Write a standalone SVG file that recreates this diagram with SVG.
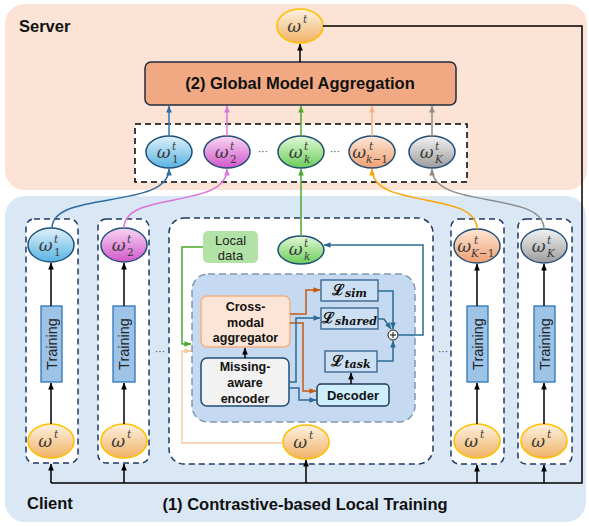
<svg xmlns="http://www.w3.org/2000/svg" width="589" height="527" viewBox="0 0 589 527">
<defs>
<linearGradient id="gO" x1="0" y1="0" x2="0" y2="1"><stop offset="0" stop-color="#fdf2e2"/><stop offset="1" stop-color="#f0b264"/></linearGradient>
<linearGradient id="gB" x1="0" y1="0" x2="0" y2="1"><stop offset="0" stop-color="#e0f1fb"/><stop offset="1" stop-color="#58b3e2"/></linearGradient>
<linearGradient id="gM" x1="0" y1="0" x2="0" y2="1"><stop offset="0" stop-color="#f8d6f4"/><stop offset="1" stop-color="#d258cb"/></linearGradient>
<linearGradient id="gG" x1="0" y1="0" x2="0" y2="1"><stop offset="0" stop-color="#e2f7d8"/><stop offset="1" stop-color="#6ccd58"/></linearGradient>
<linearGradient id="gS" x1="0" y1="0" x2="0" y2="1"><stop offset="0" stop-color="#fde6d6"/><stop offset="1" stop-color="#f0a072"/></linearGradient>
<linearGradient id="gR" x1="0" y1="0" x2="0" y2="1"><stop offset="0" stop-color="#f2f2f2"/><stop offset="1" stop-color="#9c9c9c"/></linearGradient>
<marker id="aK" viewBox="0 0 8 8" refX="7.5" refY="4" markerWidth="7" markerHeight="7" markerUnits="userSpaceOnUse" orient="auto"><path d="M0,0.8 L8,4 L0,7.2 z" fill="#000"/></marker>
<marker id="aB" viewBox="0 0 8 8" refX="7.5" refY="4" markerWidth="7" markerHeight="7" markerUnits="userSpaceOnUse" orient="auto"><path d="M0,0.8 L8,4 L0,7.2 z" fill="#2e6da4"/></marker>
<marker id="aM" viewBox="0 0 8 8" refX="7.5" refY="4" markerWidth="7" markerHeight="7" markerUnits="userSpaceOnUse" orient="auto"><path d="M0,0.8 L8,4 L0,7.2 z" fill="#dc74dc"/></marker>
<marker id="aG" viewBox="0 0 8 8" refX="7.5" refY="4" markerWidth="7" markerHeight="7" markerUnits="userSpaceOnUse" orient="auto"><path d="M0,0.8 L8,4 L0,7.2 z" fill="#4ea72e"/></marker>
<marker id="aS" viewBox="0 0 8 8" refX="7.5" refY="4" markerWidth="7" markerHeight="7" markerUnits="userSpaceOnUse" orient="auto"><path d="M0,0.8 L8,4 L0,7.2 z" fill="#f4b183"/></marker>
<marker id="aR" viewBox="0 0 8 8" refX="7.5" refY="4" markerWidth="7" markerHeight="7" markerUnits="userSpaceOnUse" orient="auto"><path d="M0,0.8 L8,4 L0,7.2 z" fill="#8c8c8c"/></marker>
<marker id="aY" viewBox="0 0 8 8" refX="7.5" refY="4" markerWidth="7" markerHeight="7" markerUnits="userSpaceOnUse" orient="auto"><path d="M0,0.8 L8,4 L0,7.2 z" fill="#ffa500"/></marker>
<marker id="aD" viewBox="0 0 8 8" refX="7.5" refY="4" markerWidth="7" markerHeight="7" markerUnits="userSpaceOnUse" orient="auto"><path d="M0,0.8 L8,4 L0,7.2 z" fill="#c55a11"/></marker>
<marker id="aT" viewBox="0 0 8 8" refX="7.5" refY="4" markerWidth="7" markerHeight="7" markerUnits="userSpaceOnUse" orient="auto"><path d="M0,0.8 L8,4 L0,7.2 z" fill="#2b6b95"/></marker>
<marker id="aP" viewBox="0 0 8 8" refX="7.5" refY="4" markerWidth="7" markerHeight="7" markerUnits="userSpaceOnUse" orient="auto"><path d="M0,0.8 L8,4 L0,7.2 z" fill="#f8cba0"/></marker>
<style>
.b{font-family:"Liberation Sans",Arial,sans-serif;font-weight:bold;fill:#111}
.r{font-family:"Liberation Sans",Arial,sans-serif;fill:#222}
.w{font-family:"DejaVu Serif","Liberation Serif",serif;font-style:italic;fill:#3a3a3a;font-size:17px}
.s{font-family:"DejaVu Serif","Liberation Serif",serif;font-style:italic;fill:#3a3a3a;font-size:10.5px}
.n{font-style:normal}
.el{stroke:#1f4e79;stroke-width:1.5}
.eo{fill:url(#gO);stroke:#ffc000;stroke-width:1.6}
.cb{fill:#fff;stroke:#1f3864;stroke-width:1.5;stroke-dasharray:6 4}
.tr{fill:#9dc3e6;stroke:#2e75b6;stroke-width:1.3}
.lb{fill:#cde0f3;stroke:#2e5f8a;stroke-width:1.3}
.ln{fill:none;stroke-width:1.5}
.L{font-family:"DejaVu Serif","Liberation Serif",serif;font-weight:bold;fill:#111}
.dots{font-family:"Liberation Sans",Arial,sans-serif;font-size:10px;fill:#333}
</style>
</defs>
<rect width="589" height="527" fill="#fff"/>
<!-- panels -->
<g id="server-panel"><rect x="5" y="4" width="582" height="186" rx="20" fill="#fbe3d6"/><text class="b" x="19" y="32" font-size="16.5">Server</text></g>
<g id="client-panel"><rect x="5" y="196" width="581" height="326" rx="20" fill="#dae8f5"/><text class="b" x="27" y="509" font-size="16.5">Client</text><text class="b" x="305" y="510" font-size="16.5" text-anchor="middle">(1) Contrastive-based Local Training</text></g>
<!-- server components -->
<g id="global-w"><ellipse class="eo" cx="300" cy="26" rx="23" ry="17"/><text class="w" x="301" y="32" text-anchor="end">ω</text><text class="s" x="303" y="23">t</text></g>
<g id="aggregation"><rect x="145" y="62" width="311" height="43" rx="6" fill="#f1a983" stroke="#1f2d3d" stroke-width="1.5"/><text class="b" x="300" y="89" font-size="16.5" text-anchor="middle">(2) Global Model Aggregation</text></g>
<g id="server-set"><rect x="135" y="124" width="332" height="58" fill="#fff" stroke="#000" stroke-width="1.5" stroke-dasharray="6 4"/>
<text class="dots" x="263" y="155" text-anchor="middle">···</text><text class="dots" x="335" y="155" text-anchor="middle">···</text></g>
<g id="s-w1"><ellipse class="el" cx="169" cy="152" rx="23" ry="16" fill="url(#gB)"/><text class="w" x="170.5" y="158" text-anchor="end">ω</text><text class="s" x="172" y="150">t</text><text class="s n" x="172" y="163">1</text></g>
<g id="s-w2"><ellipse class="el" cx="227" cy="152" rx="23" ry="16" fill="url(#gM)"/><text class="w" x="228.5" y="158" text-anchor="end">ω</text><text class="s" x="230" y="150">t</text><text class="s n" x="230" y="163">2</text></g>
<g id="s-wk"><ellipse class="el" cx="301" cy="152" rx="23" ry="16" fill="url(#gG)"/><text class="w" x="302.5" y="158" text-anchor="end">ω</text><text class="s" x="304" y="150">t</text><text class="s" x="304" y="163">k</text></g>
<g id="s-wk1"><ellipse class="el" cx="372" cy="152" rx="23" ry="16" fill="url(#gS)"/><text class="w" x="366" y="158" text-anchor="end">ω</text><text class="s" x="369" y="150">t</text><text class="s" x="366" y="163">k<tspan class="n">−1</tspan></text></g>
<g id="s-wK"><ellipse class="el" cx="432" cy="152" rx="23" ry="16" fill="url(#gR)"/><text class="w" x="433.5" y="158" text-anchor="end">ω</text><text class="s" x="435" y="150">t</text><text class="s" x="435" y="163">K</text></g>
<!-- client boxes -->
<g id="client1"><rect class="cb" x="26" y="219" width="52" height="244" rx="8"/>
<ellipse class="el" cx="51" cy="245" rx="23" ry="17" fill="url(#gB)"/><text class="w" x="52.5" y="251" text-anchor="end">ω</text><text class="s" x="54" y="243">t</text><text class="s n" x="54" y="256">1</text>
<rect class="tr" x="41" y="306" width="21" height="76"/><text class="r" font-size="14.5" text-anchor="middle" transform="translate(57,344) rotate(-90)">Training</text>
<ellipse class="eo" cx="51" cy="441" rx="23" ry="17"/><text class="w" x="52" y="447" text-anchor="end">ω</text><text class="s" x="54" y="438">t</text></g>
<g id="client2"><rect class="cb" x="98" y="219" width="51" height="244" rx="8"/>
<ellipse class="el" cx="124" cy="245" rx="23" ry="17" fill="url(#gM)"/><text class="w" x="125.5" y="251" text-anchor="end">ω</text><text class="s" x="127" y="243">t</text><text class="s n" x="127" y="256">2</text>
<rect class="tr" x="113" y="306" width="22" height="76"/><text class="r" font-size="14.5" text-anchor="middle" transform="translate(129,344) rotate(-90)">Training</text>
<ellipse class="eo" cx="124" cy="441" rx="23" ry="17"/><text class="w" x="125" y="447" text-anchor="end">ω</text><text class="s" x="127" y="438">t</text></g>
<text class="dots" x="160" y="355" text-anchor="middle">···</text>
<text class="dots" x="443" y="355" text-anchor="middle">···</text>
<g id="clientK1"><rect class="cb" x="451" y="219" width="53" height="245" rx="8"/>
<ellipse class="el" cx="477" cy="246" rx="23" ry="17" fill="url(#gS)"/><text class="w" x="471" y="252" text-anchor="end">ω</text><text class="s" x="474" y="244">t</text><text class="s" x="471" y="257">K<tspan class="n">−1</tspan></text>
<rect class="tr" x="467" y="306" width="21" height="76"/><text class="r" font-size="14.5" text-anchor="middle" transform="translate(483,344) rotate(-90)">Training</text>
<ellipse class="eo" cx="477" cy="441" rx="23" ry="17"/><text class="w" x="478" y="447" text-anchor="end">ω</text><text class="s" x="480" y="438">t</text></g>
<g id="clientK"><rect class="cb" x="518" y="219" width="54" height="245" rx="8"/>
<ellipse class="el" cx="544" cy="246" rx="23" ry="17" fill="url(#gR)"/><text class="w" x="545.5" y="252" text-anchor="end">ω</text><text class="s" x="547" y="244">t</text><text class="s" x="547" y="257">K</text>
<rect class="tr" x="534" y="306" width="21" height="76"/><text class="r" font-size="14.5" text-anchor="middle" transform="translate(550,344) rotate(-90)">Training</text>
<ellipse class="eo" cx="544" cy="441" rx="23" ry="17"/><text class="w" x="545" y="447" text-anchor="end">ω</text><text class="s" x="547" y="438">t</text></g>
<!-- center client -->
<g id="clientk"><rect class="cb" x="169" y="218" width="264" height="246" rx="15"/></g>
<g id="local-data"><rect x="203" y="231" width="55" height="32" rx="5" fill="#b3e2a6"/><text class="r" x="230.5" y="245" font-size="13" text-anchor="middle">Local</text><text class="r" x="230.5" y="260" font-size="13" text-anchor="middle">data</text></g>
<g id="c-wk"><ellipse class="el" cx="301" cy="250" rx="23" ry="14" fill="url(#gG)"/><text class="w" x="302.5" y="255" text-anchor="end">ω</text><text class="s" x="304" y="247">t</text><text class="s" x="304" y="260">k</text></g>
<g id="c-wt"><ellipse class="eo" cx="306" cy="442" rx="23" ry="17"/><text class="w" x="307" y="448" text-anchor="end">ω</text><text class="s" x="309" y="439">t</text></g>
<g id="local-model"><rect x="192" y="274" width="223" height="148" rx="16" fill="#c5daf0" stroke="#8497b0" stroke-width="1.5" stroke-dasharray="7 4"/></g>
<g id="aggregator"><rect x="201" y="296" width="89" height="51" rx="6" fill="#fce4d6" stroke="#f4b183" stroke-width="1.5"/>
<text class="b" x="245.5" y="311" font-size="12.5" text-anchor="middle">Cross-</text><text class="b" x="245.5" y="327" font-size="12.5" text-anchor="middle">modal</text><text class="b" x="245.5" y="342" font-size="12.5" text-anchor="middle">aggregator</text></g>
<g id="encoder"><rect x="201" y="358" width="88" height="48" rx="6" fill="#f2f2f2" stroke="#1f4e79" stroke-width="1.5"/>
<text class="b" x="245" y="371" font-size="12.5" text-anchor="middle">Missing-</text><text class="b" x="245" y="387" font-size="12.5" text-anchor="middle">aware</text><text class="b" x="245" y="403" font-size="12.5" text-anchor="middle">encoder</text></g>
<g id="l-sim"><rect class="lb" x="321" y="280" width="57" height="21"/><text class="L" x="349.5" y="295" text-anchor="middle"><tspan font-size="15">ℒ</tspan><tspan font-size="11" font-style="italic" dy="2">sim</tspan></text></g>
<g id="l-shared"><rect class="lb" x="321" y="308" width="57" height="21"/><text class="L" x="349.5" y="323" text-anchor="middle"><tspan font-size="15">ℒ</tspan><tspan font-size="11" font-style="italic" dy="2">shared</tspan></text></g>
<g id="l-task"><rect class="lb" x="325" y="351" width="52" height="21"/><text class="L" x="351" y="366" text-anchor="middle"><tspan font-size="15">ℒ</tspan><tspan font-size="11" font-style="italic" dy="2">task</tspan></text></g>
<g id="decoder"><rect x="317" y="384" width="72" height="22" rx="4" fill="#cdeefc" stroke="#1f3a5a" stroke-width="1.5"/><text class="b" x="353" y="400" font-size="13" text-anchor="middle">Decoder</text></g>
<g id="sum"><circle cx="393" cy="335" r="5" fill="#fff" stroke="#111" stroke-width="1"/><path d="M390,335 H396 M393,332 V338" stroke="#111" stroke-width="1"/></g>
<!-- connectors -->
<g id="connectors">
<path class="ln" d="M300,62 V44" stroke="#000" marker-end="url(#aK)"/>
<path class="ln" d="M323,26 H582 V483 H51" stroke="#000"/>
<path class="ln" d="M169,136 V106" stroke="#2e75b6" marker-end="url(#aB)"/>
<path class="ln" d="M227,136 V106" stroke="#dc74dc" marker-end="url(#aM)"/>
<path class="ln" d="M301,136 V106" stroke="#4ea72e" marker-end="url(#aG)"/>
<path class="ln" d="M372,136 V106" stroke="#f4b183" marker-end="url(#aS)"/>
<path class="ln" d="M432,136 V106" stroke="#8c8c8c" marker-end="url(#aR)"/>
<path class="ln" d="M52,228 C52,190 169,210 169,169" stroke="#2e6da4" marker-end="url(#aB)"/>
<path class="ln" d="M124,228 C124,190 227,210 227,169" stroke="#dc74dc" marker-end="url(#aM)"/>
<path class="ln" d="M301,236 V169" stroke="#4ea72e" marker-end="url(#aG)"/>
<path class="ln" d="M477,229 C477,190 372,210 372,169" stroke="#ffa500" marker-end="url(#aY)"/>
<path class="ln" d="M544,229 C544,190 432,210 432,169" stroke="#8c8c8c" marker-end="url(#aR)"/>
<path class="ln" d="M51,483 V464" stroke="#000" marker-end="url(#aK)"/>
<path class="ln" d="M124,483 V464" stroke="#000" marker-end="url(#aK)"/>
<path class="ln" d="M306,483 V460" stroke="#000" marker-end="url(#aK)"/>
<path class="ln" d="M477,483 V465" stroke="#000" marker-end="url(#aK)"/>
<path class="ln" d="M544,483 V465" stroke="#000" marker-end="url(#aK)"/>
<path class="ln" d="M51,424 V383" stroke="#000" marker-end="url(#aK)"/>
<path class="ln" d="M124,424 V383" stroke="#000" marker-end="url(#aK)"/>
<path class="ln" d="M477,424 V383" stroke="#000" marker-end="url(#aK)"/>
<path class="ln" d="M544,424 V383" stroke="#000" marker-end="url(#aK)"/>
<path class="ln" d="M51,306 V263" stroke="#000" marker-end="url(#aK)"/>
<path class="ln" d="M124,306 V263" stroke="#000" marker-end="url(#aK)"/>
<path class="ln" d="M477,306 V264" stroke="#000" marker-end="url(#aK)"/>
<path class="ln" d="M544,306 V264" stroke="#000" marker-end="url(#aK)"/>
<path class="ln" d="M203,247 H182 V344 H191" stroke="#4ea72e" marker-end="url(#aG)"/>
<path class="ln" d="M283,443 H182 V351 H191" stroke="#f8cba0" marker-end="url(#aP)"/>
<path class="ln" d="M245,358 V348" stroke="#000" marker-end="url(#aK)"/>
<path class="ln" d="M351,384 V373" stroke="#000" marker-end="url(#aK)"/>
<path class="ln" d="M290,314 H306 V290 H320" stroke="#c55a11" marker-end="url(#aD)"/>
<path class="ln" d="M290,323 H303 V391 H316" stroke="#c55a11" marker-end="url(#aD)"/>
<path class="ln" d="M289,382 H296 V318 H320" stroke="#2b6b95" marker-end="url(#aT)"/>
<path class="ln" d="M289,388 H299 V400 H316" stroke="#2b6b95" marker-end="url(#aT)"/>
<path class="ln" d="M378,291 H393 V329" stroke="#2b6b95" marker-end="url(#aT)"/>
<path class="ln" d="M378,319 H384 L391,329" stroke="#2b6b95" marker-end="url(#aT)"/>
<path class="ln" d="M377,361 H393 V341" stroke="#2b6b95" marker-end="url(#aT)"/>
<path class="ln" d="M398,335 H423 V245 H324" stroke="#2b6b95" marker-end="url(#aT)"/>
</g>
</svg>
